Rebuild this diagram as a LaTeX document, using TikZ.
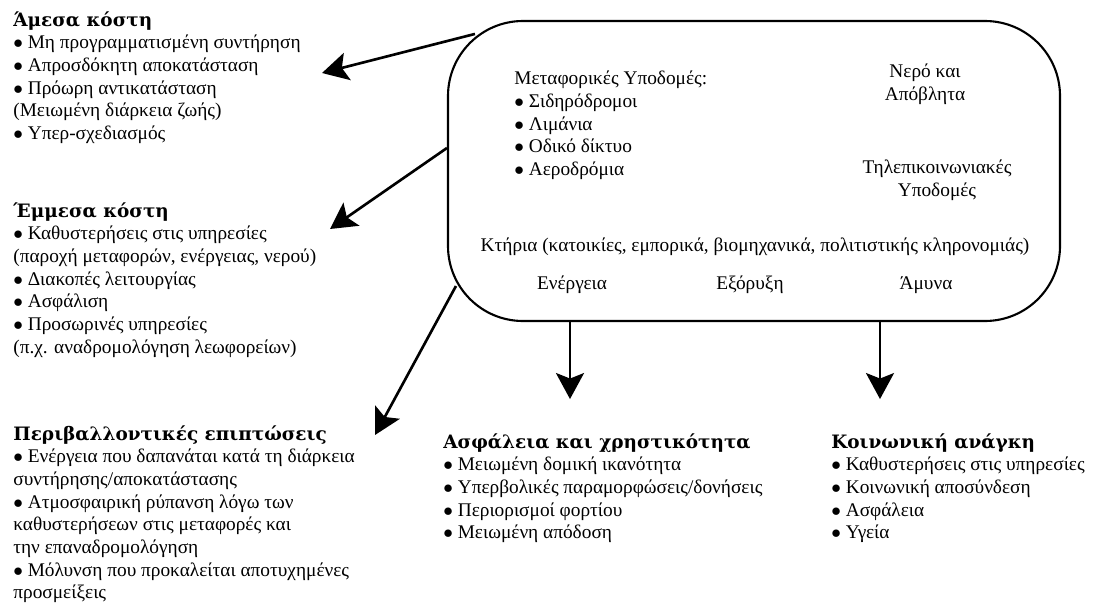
\documentclass[tikz,border=0pt]{standalone}
\usepackage{amsmath,amssymb}
\usepackage{fontspec}
\setmainfont{Liberation Serif}
\newfontfamily\titlos{DejaVu Serif}
\usetikzlibrary{arrows.meta}

\begin{document}
\begin{tikzpicture}[>={Stealth[length=0.52cm,width=0.56cm,inset=0.11cm]},
    lista/.style={anchor=north west,align=left,inner sep=0pt,font=\fontsize{11}{12.9}\selectfont},
    kentro/.style={align=center,inner sep=0pt,font=\fontsize{11}{12.9}\selectfont},
    belos/.style={->,line width=1.5pt}]
    \useasboundingbox (0,0) rectangle (22.02,12.14);
    \node(infra)[draw,line width=1.2pt,rounded corners=1.5cm,minimum width=12.24cm,minimum height=6cm] at(15.08,8.72){};
    \node(metafores)[lista] at(10.28,10.72){Μεταφορικές Υποδομές:\\
    $\bullet$ Σιδηρόδρομοι\\
    $\bullet$ Λιμάνια\\
    $\bullet$ Οδικό δίκτυο\\
    $\bullet$ Αεροδρόμια};
    \node(nero)[kentro] at(18.5,10.46){Νερό και\\Απόβλητα};
    \node(tilep)[kentro] at(18.74,8.54){Τηλεπικοινωνιακές\\Υποδομές};
    \node(ktiria)[kentro] at(15.1,7.2){Κτήρια (κατοικίες, εμπορικά, βιομηχανικά, πολιτιστικής κληρονομιάς)};
    \node(energeia)[kentro] at(11.44,6.44){Ενέργεια};
    \node(exoryxi)[kentro] at(15.0,6.44){Εξόρυξη};
    \node(amyna)[kentro] at(18.52,6.44){Άμυνα};
    \node(amesa)[lista] at(0.26,11.92){{\titlos\bfseries\fontsize{10.5}{12.9}\selectfont Άμεσα κόστη}\\
    $\bullet$ Μη προγραμματισμένη συντήρηση\\
    $\bullet$ Απροσδόκητη αποκατάσταση\\
    $\bullet$ Πρόωρη αντικατάσταση\\
    (Μειωμένη διάρκεια ζωής)\\
    $\bullet$ Υπερ-σχεδιασμός};
    \node(emmesa)[lista] at(0.26,8.1){{\titlos\bfseries\fontsize{10.5}{12.9}\selectfont Έμμεσα κόστη}\\
    $\bullet$ Καθυστερήσεις στις υπηρεσίες\\
    (παροχή μεταφορών, ενέργειας, νερού)\\
    $\bullet$ Διακοπές λειτουργίας\\
    $\bullet$ Ασφάλιση\\
    $\bullet$ Προσωρινές υπηρεσίες\\
    (π.χ. αναδρομολόγηση λεωφορείων)};
    \node(perib)[lista] at(0.26,3.64){{\titlos\bfseries\fontsize{10.5}{12.9}\selectfont Περιβαλλοντικές επιπτώσεις}\\
    $\bullet$ Ενέργεια που δαπανάται κατά τη διάρκεια\\
    συντήρησης/αποκατάστασης\\
    $\bullet$ Ατμοσφαιρική ρύπανση λόγω των\\
    καθυστερήσεων στις μεταφορές και\\
    την επαναδρομολόγηση\\
    $\bullet$ Μόλυνση που προκαλείται αποτυχημένες\\
    προσμείξεις};
    \node(asfaleia)[lista] at(8.86,3.48){{\titlos\bfseries\fontsize{10.5}{12.9}\selectfont Ασφάλεια και χρηστικότητα}\\
    $\bullet$ Μειωμένη δομική ικανότητα\\
    $\bullet$ Υπερβολικές παραμορφώσεις/δονήσεις\\
    $\bullet$ Περιορισμοί φορτίου\\
    $\bullet$ Μειωμένη απόδοση};
    \node(koinoniki)[lista] at(16.62,3.48){{\titlos\bfseries\fontsize{10.5}{12.9}\selectfont Κοινωνική ανάγκη}\\
    $\bullet$ Καθυστερήσεις στις υπηρεσίες\\
    $\bullet$ Κοινωνική αποσύνδεση\\
    $\bullet$ Ασφάλεια\\
    $\bullet$ Υγεία};
    \coordinate(t1) at(6.44,10.68);
    \coordinate(t2) at(6.6,7.56);
    \coordinate(t3) at(7.5,3.44);
    \draw[belos]([shift={(0.56,-0.28)}]infra.north west)--(t1);
    \draw[belos]([yshift=0.46cm]infra.west)--(t2);
    \draw[belos]([shift={(0.18,0.72)}]infra.south west)--(t3);
    \draw[belos]([xshift=-3.68cm]infra.south)--++(0,-1.54);
    \draw[belos]([xshift=2.52cm]infra.south)--++(0,-1.54);
    \end{tikzpicture}
\end{document}
